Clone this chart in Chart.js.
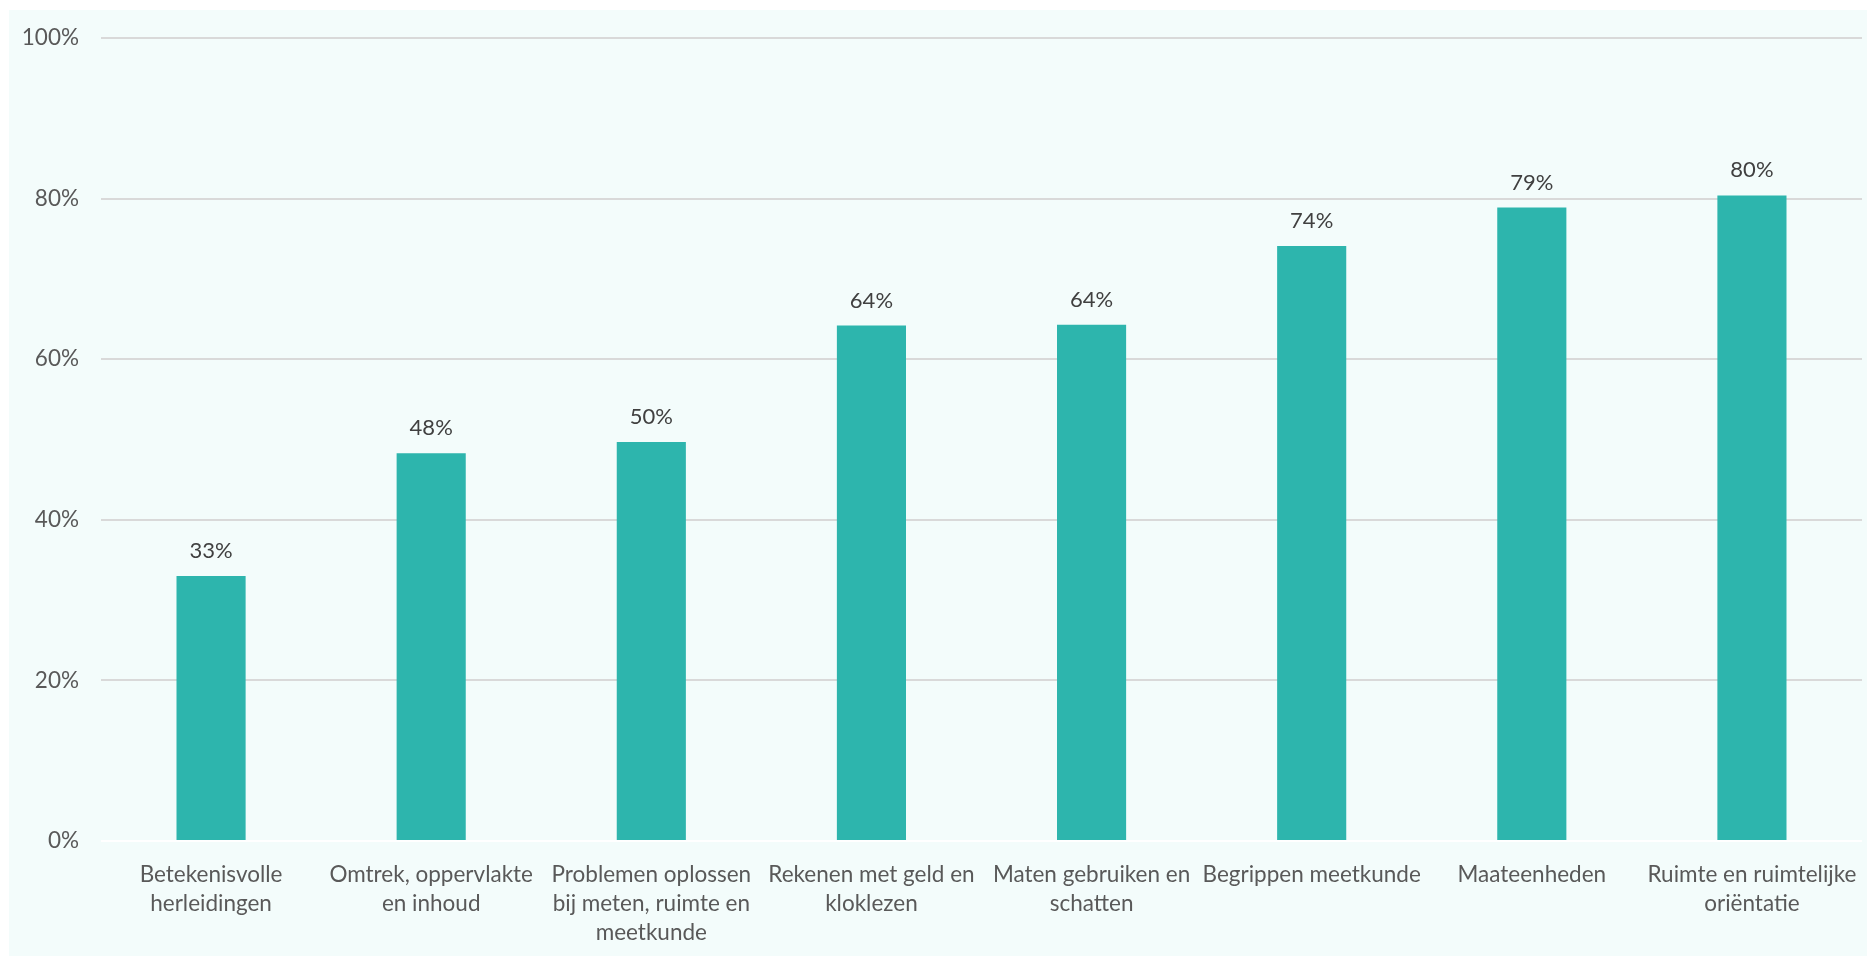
<!DOCTYPE html>
<html>
<head>
<meta charset="utf-8">
<script src="https://cdn.jsdelivr.net/npm/chart.js@4.4.1/dist/chart.umd.min.js"></script>
<style>
	html, body { margin: 0; padding: 0; background: #ffffff; }
	#panel { position: absolute; left: 9px; top: 10px; width: 1858px; height: 946px; background: #F3FCFB; }
</style>
</head>
<body>
<div id="panel"><canvas id="barchart"></canvas></div>
<script>
var categories = [
	["Betekenisvolle", "herleidingen"],
	["Omtrek, oppervlakte", "en inhoud"],
	["Problemen oplossen", "bij meten, ruimte en", "meetkunde"],
	["Rekenen met geld en", "kloklezen"],
	["Maten gebruiken en", "schatten"],
	"Begrippen meetkunde",
	"Maateenheden",
	["Ruimte en ruimtelijke", "oriëntatie"]
];
var values = [33.0, 48.3, 49.7, 64.2, 64.3, 74.1, 78.9, 80.4];
var valueLabels = ["33%", "48%", "50%", "64%", "64%", "74%", "79%", "80%"];
var yTicks = [0, 20, 40, 60, 80, 100];

var fontFamily = "Lato, 'Open Sans', sans-serif";

var barLabels = {
	id: 'barLabels',
	afterDatasetsDraw: function(chart) {
		var ctx = chart.ctx;
		var meta = chart.getDatasetMeta(0);
		ctx.save();
		ctx.font = "22px " + fontFamily;
		ctx.fillStyle = "#404040";
		ctx.textAlign = "center";
		ctx.textBaseline = "middle";
		meta.data.forEach(function(bar, i) {
			ctx.fillText(valueLabels[i], bar.x, bar.y - 25);
		});
		ctx.restore();
	}
};

var ctx = document.getElementById("barchart");
var barchart = new Chart(ctx, {
	type: 'bar',
	data: {
		labels: categories,
		datasets: [{
			data: values,
			backgroundColor: '#2DB5AD',
			categoryPercentage: 1,
			barPercentage: 0.314
		}]
	},
	plugins: [barLabels],
	options: {
		responsive: true,
		maintainAspectRatio: false,
		animation: false,
		layout: { padding: { top: 28, right: 5, bottom: 0, left: 0 } },
		plugins: {
			legend: { display: false },
			tooltip: { enabled: false }
		},
		scales: {
			x: {
				grid: { display: false, drawTicks: false },
				border: { display: false },
				ticks: {
					color: '#595959',
					font: { family: fontFamily, size: 22.5, lineHeight: 1.29 },
					padding: 19,
					maxRotation: 0,
					autoSkip: false
				},
				afterFit: function(scale) {
					scale.height = 115;
					scale.paddingLeft = 0;
					scale.paddingRight = 0;
				}
			},
			y: {
				min: 0,
				max: 100,
				afterBuildTicks: function(scale) {
					scale.ticks = yTicks.map(function(v) { return { value: v }; });
				},
				grid: {
					color: function(c) { return c.tick.value === 0 ? '#FFFFFF' : '#D9D9D9'; },
					lineWidth: 2,
					drawTicks: false
				},
				border: { display: false },
				ticks: {
					color: '#595959',
					font: { family: fontFamily, size: 22.5 },
					padding: 22,
					callback: function(v) { return v + '%'; }
				},
				afterFit: function(scale) {
					scale.width = 92;
					scale.paddingTop = 0;
					scale.paddingBottom = 0;
				}
			}
		}
	}
});
</script>
</body>
</html>
